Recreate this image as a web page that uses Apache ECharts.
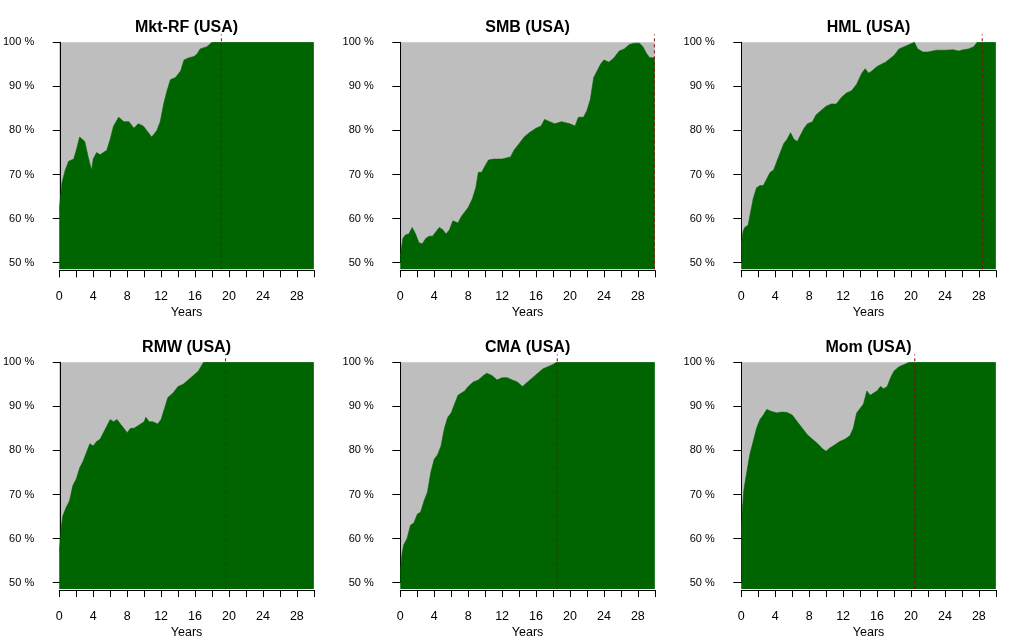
<!DOCTYPE html>
<html><head><meta charset="utf-8">
<script src="https://cdn.jsdelivr.net/npm/echarts@6/dist/echarts.min.js"></script>
<style>html,body{margin:0;padding:0;background:#fff}#c{width:1024px;height:640px}</style>
</head><body><div id="c"></div>
<script>
const titles = ['Mkt-RF (USA)', 'SMB (USA)', 'HML (USA)', 'RMW (USA)', 'CMA (USA)', 'Mom (USA)'];
const xTickLabels = [0, 4, 8, 12, 16, 20, 24, 28];
const yTickLabels = [50, 60, 70, 80, 90, 100];

const mktYears = [0,0.3,0.7,1.1,1.7,2.0,2.4,3.0,3.4,3.8,4.0,4.4,4.8,5.6,6.0,6.4,7.0,7.6,8.2,8.8,9.3,9.9,10.5,10.9,11.5,11.9,12.3,12.7,13.1,13.7,14.3,14.7,15.3,15.9,16.3,16.6,17.4,18.0,30];
const mktShare = [62,68,71,73,73.5,75.5,78.5,77.5,74,71,73.5,75,74.5,75.5,78,81,83,82,82,80.5,81.5,81,79.5,78.5,80,82,86,89,91.5,92,93.5,96,96.5,96.8,97.5,98.5,99,100,100];

const smbYears = [0,0.3,0.6,1.0,1.4,1.8,2.2,2.6,3.0,3.4,3.8,4.2,4.6,5.0,5.4,5.8,6.2,6.8,7.2,7.6,8.0,8.5,8.9,9.2,9.6,10.0,10.4,11.0,12.0,13.0,13.4,14.0,14.6,15.2,16.0,16.6,17.0,17.6,18.2,19.0,20.0,20.6,21.0,21.6,22.0,22.4,22.8,23.2,23.6,24.0,24.6,25.2,25.8,26.4,27.0,27.6,28.2,28.6,29.0,29.4,30];
const smbShare = [51.5,55.5,56.3,56.5,58,56.5,54.5,54.3,55.5,56,56,57,58,57.5,56.5,57.5,59.5,59,60.5,61.5,62.5,64.5,67,70.5,70.5,72,73.3,73.5,73.5,74,75.5,77,78.5,79.5,80.5,81,82.5,82,81.5,82,81.5,81,83,83,84.5,87,92,93.5,95,96,95.5,96.5,98,98.5,99.5,99.8,99.8,99,97.5,96.5,96.5];

const hmlYears = [0,0.2,0.4,0.8,1.0,1.4,1.8,2.2,2.6,3.0,3.4,3.8,4.2,4.6,5.0,5.4,5.8,6.2,6.6,7.0,7.4,7.8,8.4,8.8,9.4,10.0,10.6,11.2,11.8,12.4,13.0,13.6,14.2,14.6,15.0,15.4,16.0,17.0,18.0,18.6,19.2,19.8,20.4,20.8,21.4,22.0,23.0,24.0,25.0,25.6,26.2,26.8,27.4,27.8,30];
const hmlShare = [54,57,58,58.5,60.5,64.5,67,67.5,67.5,69,70.5,71,73,75,77,78,79.5,78,77.5,79,80.5,81.5,82,83.5,84.5,85.5,86,86,87.5,88.5,89,90.5,93,94,93,93.5,94.5,95.5,97,98.5,99,99.5,100,98.5,97.8,97.8,98.2,98.2,98.3,98,98.3,98.5,99,100,100];

const rmwYears = [0,0.2,0.4,0.8,1.2,1.6,2.0,2.4,2.8,3.2,3.6,4.0,4.4,4.8,5.2,5.6,6.0,6.4,6.8,7.2,7.6,8.0,8.4,8.8,9.2,9.6,10.0,10.2,10.6,11.0,11.6,12.0,12.4,12.8,13.4,14.0,14.6,15.2,15.8,16.4,17.0,30];
const rmwShare = [57,62,65,67,68.5,72,73.5,76,77.5,79.5,81.5,81,82,82.5,84,85.5,87,86.5,87,86,85,84,85,85,85.5,86,86.5,87.5,86.5,86.5,86,87,89.5,92,93,94.5,95,96,97,98,100,100];

const cmaYears = [0,0.2,0.4,0.8,1.2,1.6,2.0,2.4,2.8,3.2,3.6,4.0,4.4,4.8,5.2,5.6,6.0,6.4,6.8,7.2,7.6,8.0,8.6,9.2,9.8,10.2,10.8,11.4,12.0,12.6,13.2,13.8,14.4,15.0,15.6,16.2,16.8,17.4,18.0,18.4,30];
const cmaShare = [52.5,56.5,58.5,60,63,63.5,65.5,66,68.5,70.5,75,78,79,81,85,87.5,88.5,90.5,92.5,93,93.5,94.5,95.5,96,97,97.5,97,96,96.5,96.5,96,95.5,94.5,95.5,96.5,97.5,98.5,99,99.5,100,100];

const momYears = [0,0.1,0.3,0.6,1.0,1.4,1.8,2.2,2.6,3.0,3.6,4.2,4.8,5.4,6.0,6.6,7.2,7.8,8.4,9.0,9.6,10.0,10.4,11.0,11.6,12.2,12.8,13.2,13.6,14.0,14.4,14.8,15.2,15.6,16.0,16.4,16.8,17.2,17.6,18.0,18.6,19.2,19.8,30];
const momShare = [61,66,71,74.5,79,82,85,87,88,89.3,88.8,88.5,88.7,88.6,88,86.5,85,83.5,82.5,81.5,80.3,79.8,80.5,81.2,82,82.5,83.3,85,88.5,89.5,90.5,93.5,92.5,93,93.5,94.5,94,94.5,96.5,98,99,99.5,100,100];

const cutoffYears = [19.1, 29.95, 28.4, 19.6, 18.5, 20.45];

const panelYears = [mktYears, smbYears, hmlYears, rmwYears, cmaYears, momYears];
const panelShare = [mktShare, smbShare, hmlShare, rmwShare, cmaShare, momShare];

const lefts = [59.3, 400.3, 741.3];
const tops = [42.3, 362.3];
const W = 254.5;
const FONT = 'Liberation Sans, Arial, sans-serif';

const option = {animation: false, backgroundColor: '#fff', title: [], grid: [], xAxis: [], yAxis: [], series: []};

for (let i = 0; i < 6; i++) {
  const col = i % 3, row = Math.floor(i / 3);
  const L = lefts[col], T = tops[row];
  option.title.push({
    text: titles[i], left: L + W / 2, top: T - 23, textAlign: 'center', padding: 0,
    textStyle: {fontFamily: FONT, fontSize: 16, fontWeight: 'bold', color: '#000'}
  });
  option.grid.push({left: L, top: T, width: W, height: 227, show: true, backgroundColor: '#BEBEBE', borderWidth: 0});
  option.grid.push({left: L, top: T, width: W, height: 220.4, show: false});
  option.grid.push({left: L, top: T - 8, width: W, height: 235, show: false});
  const g = 3 * i;
  option.xAxis.push({
    type: 'value', gridIndex: g, min: 0, max: 30, interval: 2, offset: 1,
    axisLine: {show: true, lineStyle: {color: '#000', width: 1}},
    axisTick: {show: true, length: 7, lineStyle: {color: '#000'}},
    axisLabel: {margin: 20, fontFamily: FONT, fontSize: 12.5, color: '#000',
      formatter: v => xTickLabels.includes(v) ? String(v) : '', showMinLabel: true, showMaxLabel: true},
    splitLine: {show: false},
    name: 'Years', nameLocation: 'middle', nameGap: 36,
    nameTextStyle: {fontFamily: FONT, fontSize: 12.5, color: '#000'}
  });
  option.xAxis.push({type: 'value', gridIndex: g + 1, min: 0, max: 30, show: false});
  option.xAxis.push({type: 'value', gridIndex: g + 2, min: 0, max: 30, show: false});
  option.yAxis.push({type: 'value', gridIndex: g, min: 48.5, max: 100, show: false});
  option.yAxis.push({
    type: 'value', gridIndex: g + 1, min: 50, max: 100, interval: 10, offset: 9.5,
    axisLine: {show: true, lineStyle: {color: '#000', width: 1}},
    axisTick: {show: true, length: 8, lineStyle: {color: '#000'}},
    axisLabel: {margin: 17, fontFamily: FONT, fontSize: 11, color: '#000',
      formatter: v => yTickLabels.includes(v) ? v + ' %' : ''},
    splitLine: {show: false}
  });
  option.yAxis.push({type: 'value', gridIndex: g + 2, min: 0, max: 1, show: false});

  option.series.push({
    type: 'line', xAxisIndex: g, yAxisIndex: g,
    data: panelYears[i].map((x, k) => [x, panelShare[i][k]]),
    showSymbol: false, silent: true,
    lineStyle: {color: '#006400', width: 0.6},
    areaStyle: {color: '#006400', opacity: 1, origin: 'start'}
  });
  option.series.push({
    type: 'line', xAxisIndex: g + 2, yAxisIndex: g + 2,
    data: [[cutoffYears[i], 0], [cutoffYears[i], 1]],
    showSymbol: false, silent: true, z: 5,
    lineStyle: {color: '#7A1010', width: 1, type: [3, 3]}
  });
}

const chart = echarts.init(document.getElementById('c'), null, {renderer: 'canvas'});
chart.setOption(option);
</script>
</body></html>
